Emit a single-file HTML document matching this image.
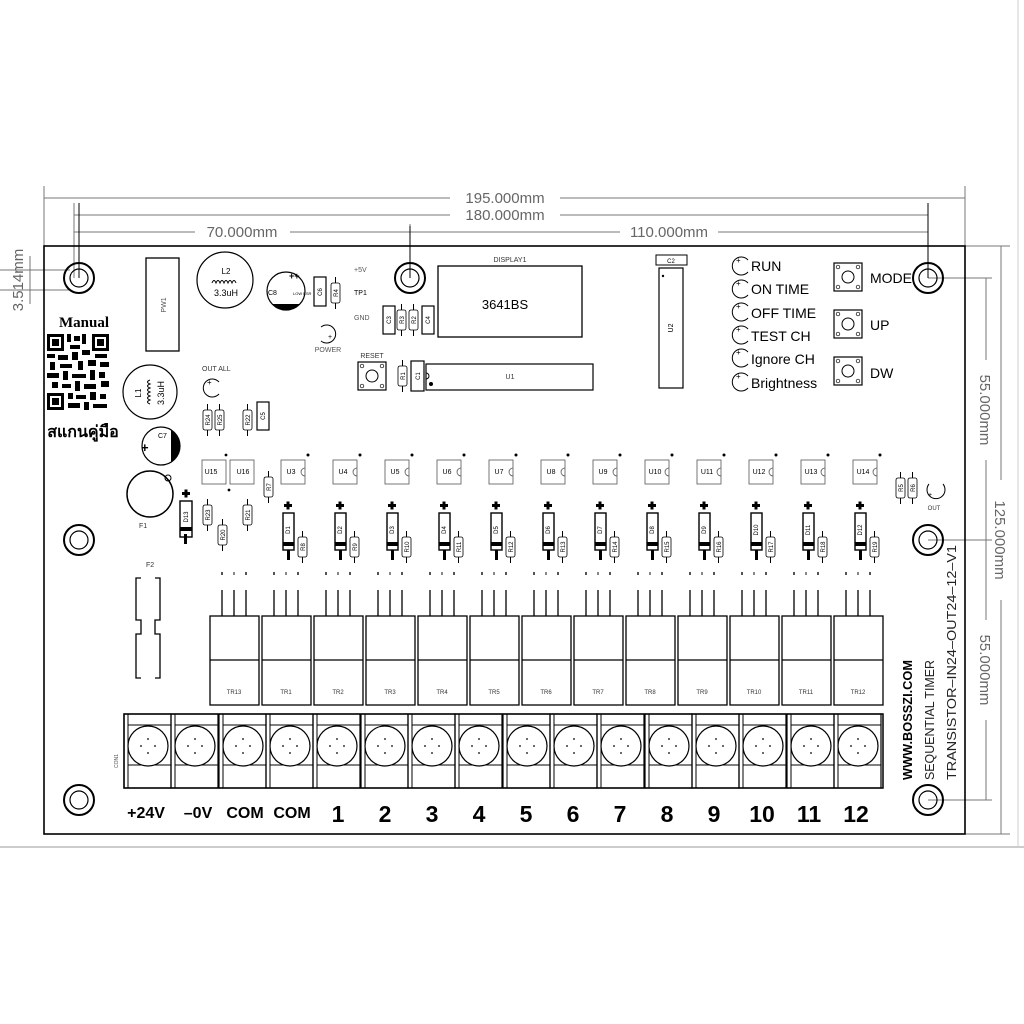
<!DOCTYPE html>
<html><head><meta charset="utf-8"><style>
html,body{margin:0;padding:0;background:#fff}
svg{display:block}
text{font-family:"Liberation Sans","Noto Sans CJK SC",sans-serif}
</style></head><body>
<svg width="1024" height="1024" viewBox="0 0 1024 1024" xmlns="http://www.w3.org/2000/svg">
<defs>
<g id="hole"><circle r="15" fill="none" stroke="#000" stroke-width="2"/><circle r="9" fill="none" stroke="#000" stroke-width="1.2"/></g>
<g id="res"><rect x="0" y="0" width="9" height="20" rx="2" fill="#fff" stroke="#000" stroke-width="0.8"/><line x1="4.5" y1="-6" x2="4.5" y2="0" stroke="#000"/><line x1="4.5" y1="20" x2="4.5" y2="26" stroke="#000"/></g>
<g id="tr"><rect x="0" y="0" width="49" height="89" fill="#fff" stroke="#000" stroke-width="1.3"/><line x1="0" y1="44" x2="49" y2="44" stroke="#000" stroke-width="1.3"/>
<line x1="12" y1="-26" x2="12" y2="0" stroke="#000" stroke-width="1.3"/><line x1="24" y1="-26" x2="24" y2="0" stroke="#000" stroke-width="1.3"/><line x1="36" y1="-26" x2="36" y2="0" stroke="#000" stroke-width="1.3"/>
<rect x="11" y="-44" width="2" height="3" fill="#555"/><rect x="23" y="-44" width="2" height="3" fill="#888"/><rect x="35" y="-44" width="2" height="3" fill="#555"/></g>
<g id="ch"><rect x="19" y="-156" width="24" height="24" fill="#fff" stroke="#555" stroke-width="0.8"/><path d="M43,-148 a4,4 0 0 0 0,8" fill="none" stroke="#555" stroke-width="0.8"/><circle cx="46" cy="-161" r="1.5" fill="#000"/>
<rect x="21" y="-103" width="11" height="37" fill="#fff" stroke="#000" stroke-width="1.4"/><rect x="21" y="-74" width="11" height="4" fill="#000"/><rect x="25" y="-66" width="3" height="10" fill="#000"/>
<rect x="22" y="-112" width="8" height="3" fill="#000"/><rect x="24.5" y="-114.5" width="3" height="8" fill="#000"/>
<use href="#res" x="36" y="-79"/></g>
<g id="term"><rect x="0" y="0" width="47" height="74" fill="none" stroke="#000" stroke-width="1.2"/><line x1="4" y1="0" x2="4" y2="74" stroke="#000"/><line x1="4" y1="11" x2="47" y2="11" stroke="#000"/><line x1="4" y1="51" x2="47" y2="51" stroke="#000"/><circle cx="24" cy="32" r="20" fill="#fff" stroke="#000" stroke-width="1.2"/>
<circle cx="24" cy="25" r="0.9"/><circle cx="24" cy="39" r="0.9"/><circle cx="17" cy="32" r="0.9"/><circle cx="31" cy="32" r="0.9"/></g>
<g id="led"><path d="M8,-6 A9,9 0 1 0 8,6" fill="none" stroke="#000" stroke-width="1"/><text x="-4" y="-3" font-size="8">+</text></g>
<g id="btn"><rect x="0" y="0" width="28" height="28" fill="none" stroke="#000" stroke-width="1.2"/><circle cx="14" cy="14" r="6" fill="none" stroke="#000"/><circle cx="4" cy="4" r="1.8" fill="none" stroke="#000" stroke-width="0.7"/><circle cx="24" cy="4" r="1.8" fill="none" stroke="#000" stroke-width="0.7"/><circle cx="4" cy="24" r="1.8" fill="none" stroke="#000" stroke-width="0.7"/><circle cx="24" cy="24" r="1.8" fill="none" stroke="#000" stroke-width="0.7"/></g>
</defs>

<line x1="0" y1="847" x2="1024" y2="847" stroke="#bbb" stroke-width="1.5"/>
<line x1="1018" y1="0" x2="1018" y2="847" stroke="#ccc" stroke-width="1"/>

<g stroke="#777" stroke-width="1" fill="none">
<line x1="44" y1="186" x2="44" y2="246"/><line x1="965" y1="186" x2="965" y2="246"/>
<line x1="74" y1="203" x2="74" y2="278"/><line x1="928" y1="203" x2="928" y2="278"/>
<line x1="410" y1="224" x2="410" y2="278"/>
<line x1="44" y1="198" x2="450" y2="198"/><line x1="560" y1="198" x2="965" y2="198"/>
<line x1="74" y1="215" x2="450" y2="215"/><line x1="560" y1="215" x2="928" y2="215"/>
<line x1="74" y1="232" x2="195" y2="232"/><line x1="290" y1="232" x2="410" y2="232"/>
<line x1="410" y1="232" x2="620" y2="232"/><line x1="718" y1="232" x2="928" y2="232"/>
<line x1="0" y1="270" x2="70" y2="270"/><line x1="0" y1="290" x2="70" y2="290"/>
<line x1="30" y1="256" x2="30" y2="304"/>
<line x1="965" y1="246" x2="1010" y2="246"/><line x1="965" y1="834" x2="1010" y2="834"/>
<line x1="928" y1="278" x2="992" y2="278"/><line x1="928" y1="540" x2="992" y2="540"/><line x1="928" y1="800" x2="992" y2="800"/>
<line x1="1001" y1="246" x2="1001" y2="480"/><line x1="1001" y1="600" x2="1001" y2="834"/>
<line x1="986" y1="278" x2="986" y2="360"/><line x1="986" y1="460" x2="986" y2="540"/>
<line x1="986" y1="540" x2="986" y2="620"/><line x1="986" y1="720" x2="986" y2="800"/>
</g>
<g fill="#666" font-size="15">
<text x="505" y="203" text-anchor="middle">195.000mm</text>
<text x="505" y="220" text-anchor="middle">180.000mm</text>
<text x="242" y="237" text-anchor="middle">70.000mm</text>
<text x="669" y="237" text-anchor="middle">110.000mm</text>
<text transform="translate(23,280) rotate(-90)" text-anchor="middle">3.514mm</text>
<text transform="translate(980,410) rotate(90)" text-anchor="middle">55.000mm</text>
<text transform="translate(980,670) rotate(90)" text-anchor="middle">55.000mm</text>
<text transform="translate(995,540) rotate(90)" text-anchor="middle">125.000mm</text>
</g>

<rect x="44" y="246" width="921" height="588" fill="none" stroke="#000" stroke-width="1.6"/>
<use href="#hole" x="79" y="278"/><use href="#hole" x="410" y="278"/><use href="#hole" x="928" y="278"/>
<use href="#hole" x="79" y="540"/><use href="#hole" x="928" y="540"/><use href="#hole" x="79" y="800"/><use href="#hole" x="928" y="800"/>
<g stroke="#000" stroke-width="1"><line x1="79" y1="203" x2="79" y2="278"/><line x1="410" y1="226" x2="410" y2="278"/><line x1="928" y1="203" x2="928" y2="278"/></g>

<text x="84" y="327" font-weight="bold" font-size="15" text-anchor="middle" style="font-family:'Liberation Serif',serif">Manual</text>
<g>
<rect x="47" y="334" width="62" height="76" fill="#fff"/>
<g fill="#000">
<rect x="47" y="334" width="17" height="17"/><rect x="92" y="334" width="17" height="17"/><rect x="47" y="393" width="17" height="17"/>
</g>
<g fill="#fff"><rect x="50" y="337" width="11" height="11"/><rect x="95" y="337" width="11" height="11"/><rect x="50" y="396" width="11" height="11"/></g>
<g fill="#000"><rect x="52" y="339" width="7" height="7"/><rect x="97" y="339" width="7" height="7"/><rect x="52" y="398" width="7" height="7"/>
<rect x="67" y="334" width="4" height="8"/><rect x="74" y="336" width="6" height="5"/><rect x="82" y="334" width="4" height="10"/><rect x="70" y="345" width="10" height="4"/>
<rect x="47" y="354" width="8" height="4"/><rect x="58" y="355" width="10" height="5"/><rect x="72" y="352" width="6" height="8"/><rect x="82" y="350" width="8" height="5"/><rect x="95" y="354" width="12" height="4"/>
<rect x="50" y="362" width="5" height="8"/><rect x="60" y="364" width="12" height="4"/><rect x="78" y="361" width="5" height="9"/><rect x="88" y="360" width="8" height="6"/><rect x="100" y="362" width="9" height="5"/>
<rect x="47" y="373" width="12" height="5"/><rect x="63" y="371" width="5" height="9"/><rect x="72" y="374" width="14" height="4"/><rect x="90" y="370" width="5" height="10"/><rect x="99" y="372" width="6" height="6"/>
<rect x="52" y="382" width="6" height="6"/><rect x="62" y="384" width="9" height="4"/><rect x="75" y="381" width="5" height="10"/><rect x="84" y="384" width="12" height="5"/><rect x="101" y="381" width="8" height="6"/>
<rect x="68" y="393" width="5" height="6"/><rect x="76" y="395" width="10" height="4"/><rect x="90" y="392" width="6" height="8"/><rect x="100" y="394" width="6" height="5"/>
<rect x="68" y="403" width="12" height="5"/><rect x="84" y="402" width="5" height="8"/><rect x="93" y="404" width="14" height="4"/></g>
</g>
<text x="83" y="437" font-size="16" font-weight="bold" text-anchor="middle" style="font-family:'Liberation Serif','Noto Serif CJK SC',serif">สแกนคู่มือ</text>

<rect x="146" y="258" width="33" height="93" fill="none" stroke="#000" stroke-width="1.3"/>
<text transform="translate(166,305) rotate(-90)" font-size="7" fill="#555" text-anchor="middle">PW1</text>
<circle cx="225" cy="280" r="28" fill="none" stroke="#000" stroke-width="1.2"/>
<text x="226" y="274" font-size="8" text-anchor="middle">L2</text>
<path d="M212,283 q2,-5 4,0 q2,-5 4,0 q2,-5 4,0 q2,-5 4,0 q2,-5 4,0 q2,-5 4,0" fill="none" stroke="#000"/>
<text x="226" y="296" font-size="9" text-anchor="middle">3.3uH</text>
<circle cx="286" cy="291" r="19" fill="none" stroke="#000" stroke-width="1.2"/>
<path d="M272,304 A19,19 0 0 0 300,304 Z" fill="#000"/>
<text x="268" y="295" font-size="7">C8</text><text x="289" y="279" font-size="9" font-weight="bold">++</text>
<text x="293" y="295" font-size="4">LOW ESR</text>
<rect x="314" y="277" width="12" height="29" fill="none" stroke="#000" stroke-width="1.2"/>
<text transform="translate(322,292) rotate(-90)" font-size="6" text-anchor="middle">C6</text>
<use href="#res" x="331" y="283"/><text transform="translate(338,293) rotate(-90)" font-size="6" text-anchor="middle">R4</text>
<path d="M321,327 A9,9 0 1 1 321,341" fill="none" stroke="#000"/><text x="328" y="339" font-size="7">+</text>
<text x="328" y="352" font-size="7" fill="#555" text-anchor="middle">POWER</text>
<text x="354" y="272" font-size="7" fill="#555">+5V</text>
<text x="354" y="295" font-size="7" fill="#000">TP1</text>
<text x="354" y="320" font-size="7" fill="#555">GND</text>

<rect x="383" y="306" width="12" height="28" fill="none" stroke="#000" stroke-width="1.2"/><text transform="translate(391,320) rotate(-90)" font-size="6" text-anchor="middle">C3</text>
<use href="#res" x="397" y="310"/><text transform="translate(404,320) rotate(-90)" font-size="6" text-anchor="middle">R3</text>
<use href="#res" x="409" y="310"/><text transform="translate(416,320) rotate(-90)" font-size="6" text-anchor="middle">R2</text>
<rect x="422" y="306" width="12" height="28" fill="none" stroke="#000" stroke-width="1.2"/><text transform="translate(430,320) rotate(-90)" font-size="6" text-anchor="middle">C4</text>
<rect x="438" y="266" width="144" height="71" fill="none" stroke="#000" stroke-width="1.3"/>
<text x="510" y="262" font-size="7" fill="#333" text-anchor="middle">DISPLAY1</text>
<text x="505" y="309" font-size="13" text-anchor="middle">3641BS</text>
<text x="372" y="358" font-size="7" fill="#333" text-anchor="middle">RESET</text>
<use href="#btn" x="358" y="362"/>
<use href="#res" x="398" y="366"/><text transform="translate(405,376) rotate(-90)" font-size="6" text-anchor="middle">R1</text>
<rect x="411" y="361" width="13" height="30" fill="none" stroke="#000" stroke-width="1.2"/><text transform="translate(420,376) rotate(-90)" font-size="6" text-anchor="middle">C1</text>
<rect x="426" y="364" width="167" height="26" fill="none" stroke="#000" stroke-width="1.2"/>
<path d="M426,373 a3,3 0 0 1 0,6" fill="none" stroke="#000"/><circle cx="431" cy="384" r="2" fill="#000"/>
<text x="510" y="379" font-size="7" fill="#333" text-anchor="middle">U1</text>

<rect x="656" y="255" width="31" height="10" fill="none" stroke="#000"/><text x="671" y="263" font-size="6" text-anchor="middle">C2</text>
<rect x="659" y="268" width="24" height="120" fill="none" stroke="#000" stroke-width="1.2"/><circle cx="663" cy="276" r="1.2"/>
<text transform="translate(673,328) rotate(-90)" font-size="7" text-anchor="middle">U2</text>

<g font-size="14"><use href="#led" x="740" y="266"/><text x="751" y="271">RUN</text>
<use href="#led" x="740" y="289"/><text x="751" y="294">ON TIME</text>
<use href="#led" x="740" y="312"/><text x="751" y="318">OFF TIME</text>
<use href="#led" x="740" y="335"/><text x="751" y="341">TEST CH</text>
<use href="#led" x="740" y="358"/><text x="751" y="364">Ignore CH</text>
<use href="#led" x="740" y="382"/><text x="751" y="388">Brightness</text>
<use href="#btn" x="834" y="263"/><text x="870" y="283">MODE</text>
<use href="#btn" x="834" y="310"/><text x="870" y="330">UP</text>
<use href="#btn" x="834" y="357"/><text x="870" y="378">DW</text></g>

<circle cx="150" cy="392" r="27" fill="none" stroke="#000" stroke-width="1.2"/>
<text transform="translate(141,393) rotate(-90)" font-size="8" text-anchor="middle">L1</text>
<path d="M150,380 q-5,2 0,4 q-5,2 0,4 q-5,2 0,4 q-5,2 0,4 q-5,2 0,4 q-5,2 0,4" fill="none" stroke="#000"/>
<text transform="translate(164,393) rotate(-90)" font-size="9" text-anchor="middle">3.3uH</text>
<circle cx="161" cy="446" r="19" fill="none" stroke="#000" stroke-width="1.2"/>
<path d="M171,430 A19,19 0 0 1 171,462 Z" fill="#000"/>
<text x="141" y="452" font-size="13" font-weight="bold">+</text><text x="158" y="438" font-size="7">C7</text>
<circle cx="150" cy="494" r="23" fill="none" stroke="#000" stroke-width="1.5"/>
<circle cx="168" cy="478" r="3" fill="none" stroke="#000"/>
<text x="139" y="528" font-size="7" fill="#333">F1</text>
<text x="146" y="567" font-size="7" fill="#333">F2</text>
<path d="M141,578 h-5 v42 h5 v14 h-5 v44 h5 M155,578 h5 v42 h-5 v14 h5 v44 h-5" fill="none" stroke="#000" stroke-width="1.3"/>

<text x="202" y="371" font-size="7" fill="#333">OUT ALL</text>
<use href="#led" x="211" y="388"/>
<use href="#res" x="203" y="410"/><text transform="translate(210,420) rotate(-90)" font-size="6" text-anchor="middle">R24</text>
<use href="#res" x="215" y="410"/><text transform="translate(222,420) rotate(-90)" font-size="6" text-anchor="middle">R25</text>
<use href="#res" x="243" y="410"/><text transform="translate(250,420) rotate(-90)" font-size="6" text-anchor="middle">R22</text>
<rect x="257" y="402" width="12" height="28" fill="none" stroke="#000" stroke-width="1.2"/><text transform="translate(265,416) rotate(-90)" font-size="6" text-anchor="middle">C5</text>
<rect x="202" y="460" width="24" height="24" fill="none" stroke="#555" stroke-width="0.8"/><text x="211" y="474" font-size="7" text-anchor="middle">U15</text>
<rect x="230" y="460" width="24" height="24" fill="none" stroke="#555" stroke-width="0.8"/><text x="243" y="474" font-size="7" text-anchor="middle">U16</text>
<circle cx="226" cy="455" r="1.4"/><circle cx="229" cy="490" r="1.4"/>
<use href="#res" x="264" y="477"/><text transform="translate(271,487) rotate(-90)" font-size="6" text-anchor="middle">R7</text>
<rect x="180" y="501" width="12" height="36" fill="none" stroke="#000" stroke-width="1.4"/><rect x="180" y="527" width="12" height="4" fill="#000"/><rect x="184" y="534" width="3" height="10" fill="#000"/>
<rect x="182" y="492" width="8" height="3" fill="#000"/><rect x="184.5" y="489.5" width="3" height="8" fill="#000"/>
<text transform="translate(188,517) rotate(-90)" font-size="6" text-anchor="middle">D13</text>
<use href="#res" x="203" y="505"/><text transform="translate(210,515) rotate(-90)" font-size="6" text-anchor="middle">R23</text>
<use href="#res" x="218" y="525"/><text transform="translate(225,535) rotate(-90)" font-size="6" text-anchor="middle">R20</text>
<use href="#res" x="243" y="505"/><text transform="translate(250,515) rotate(-90)" font-size="6" text-anchor="middle">R21</text>

<use href="#tr" x="210" y="616"/>
<g>
<use href="#tr" x="262" y="616"/><use href="#tr" x="314" y="616"/><use href="#tr" x="366" y="616"/><use href="#tr" x="418" y="616"/>
<use href="#tr" x="470" y="616"/><use href="#tr" x="522" y="616"/><use href="#tr" x="574" y="616"/><use href="#tr" x="626" y="616"/>
<use href="#tr" x="678" y="616"/><use href="#tr" x="730" y="616"/><use href="#tr" x="782" y="616"/><use href="#tr" x="834" y="616"/>
<use href="#ch" x="262" y="616"/><use href="#ch" x="314" y="616"/><use href="#ch" x="366" y="616"/><use href="#ch" x="418" y="616"/>
<use href="#ch" x="470" y="616"/><use href="#ch" x="522" y="616"/><use href="#ch" x="574" y="616"/><use href="#ch" x="626" y="616"/>
<use href="#ch" x="678" y="616"/><use href="#ch" x="730" y="616"/><use href="#ch" x="782" y="616"/><use href="#ch" x="834" y="616"/>
</g>
<g font-size="6" fill="#333" text-anchor="middle">
<text x="234" y="694">TR13</text><text x="286" y="694">TR1</text><text x="338" y="694">TR2</text><text x="390" y="694">TR3</text><text x="442" y="694">TR4</text><text x="494" y="694">TR5</text><text x="546" y="694">TR6</text><text x="598" y="694">TR7</text><text x="650" y="694">TR8</text><text x="702" y="694">TR9</text><text x="754" y="694">TR10</text><text x="806" y="694">TR11</text><text x="858" y="694">TR12</text>
</g>
<g font-size="7" text-anchor="middle">
<text x="291" y="474">U3</text><text x="343" y="474">U4</text><text x="395" y="474">U5</text><text x="447" y="474">U6</text><text x="499" y="474">U7</text><text x="551" y="474">U8</text><text x="603" y="474">U9</text><text x="655" y="474">U10</text><text x="707" y="474">U11</text><text x="759" y="474">U12</text><text x="811" y="474">U13</text><text x="863" y="474">U14</text>
</g>
<g font-size="6" text-anchor="middle">
<text transform="translate(290,530) rotate(-90)">D1</text><text transform="translate(342,530) rotate(-90)">D2</text><text transform="translate(394,530) rotate(-90)">D3</text><text transform="translate(446,530) rotate(-90)">D4</text><text transform="translate(498,530) rotate(-90)">D5</text><text transform="translate(550,530) rotate(-90)">D6</text><text transform="translate(602,530) rotate(-90)">D7</text><text transform="translate(654,530) rotate(-90)">D8</text><text transform="translate(706,530) rotate(-90)">D9</text><text transform="translate(758,530) rotate(-90)">D10</text><text transform="translate(810,530) rotate(-90)">D11</text><text transform="translate(862,530) rotate(-90)">D12</text>
<text transform="translate(305,547) rotate(-90)">R8</text><text transform="translate(357,547) rotate(-90)">R9</text><text transform="translate(409,547) rotate(-90)">R10</text><text transform="translate(461,547) rotate(-90)">R11</text><text transform="translate(513,547) rotate(-90)">R12</text><text transform="translate(565,547) rotate(-90)">R13</text><text transform="translate(617,547) rotate(-90)">R14</text><text transform="translate(669,547) rotate(-90)">R15</text><text transform="translate(721,547) rotate(-90)">R16</text><text transform="translate(773,547) rotate(-90)">R17</text><text transform="translate(825,547) rotate(-90)">R18</text><text transform="translate(877,547) rotate(-90)">R19</text>
</g>
<use href="#res" x="896" y="478"/><text transform="translate(903,488) rotate(-90)" font-size="6" text-anchor="middle">R5</text>
<use href="#res" x="908" y="478"/><text transform="translate(915,488) rotate(-90)" font-size="6" text-anchor="middle">R6</text>
<path d="M929,484 A9,9 0 1 0 943,484" fill="none" stroke="#000"/><text x="928" y="497" font-size="7">+</text>
<text x="934" y="510" font-size="6" fill="#333" text-anchor="middle">OUT</text>

<rect x="124" y="714" width="759" height="74" fill="none" stroke="#000" stroke-width="1.5"/>
<use href="#term" x="124" y="714"/><use href="#term" x="171" y="714"/><use href="#term" x="219" y="714"/><use href="#term" x="266" y="714"/>
<use href="#term" x="313" y="714"/><use href="#term" x="361" y="714"/><use href="#term" x="408" y="714"/><use href="#term" x="455" y="714"/>
<use href="#term" x="503" y="714"/><use href="#term" x="550" y="714"/><use href="#term" x="597" y="714"/><use href="#term" x="645" y="714"/>
<use href="#term" x="692" y="714"/><use href="#term" x="739" y="714"/><use href="#term" x="787" y="714"/><use href="#term" x="834" y="714"/>
<text transform="translate(118,768) rotate(-90)" font-size="5" fill="#555">CON1</text>
<g font-weight="bold" font-size="16" text-anchor="middle">
<text x="146" y="818">+24V</text><text x="198" y="818">–0V</text><text x="245" y="818">COM</text><text x="292" y="818">COM</text>
</g>
<g font-weight="bold" font-size="23" text-anchor="middle">
<text x="338" y="822">1</text><text x="385" y="822">2</text><text x="432" y="822">3</text><text x="479" y="822">4</text><text x="526" y="822">5</text><text x="573" y="822">6</text><text x="620" y="822">7</text><text x="667" y="822">8</text><text x="714" y="822">9</text><text x="762" y="822">10</text><text x="809" y="822">11</text><text x="856" y="822">12</text>
</g>
<g font-size="13">
<text transform="translate(912,780) rotate(-90)" font-weight="bold" textLength="120" lengthAdjust="spacingAndGlyphs">WWW.BOSSZI.COM</text>
<text transform="translate(934,780) rotate(-90)" fill="#222" textLength="120" lengthAdjust="spacingAndGlyphs">SEQUENTIAL TIMER</text>
<text transform="translate(956,780) rotate(-90)" fill="#222" textLength="235" lengthAdjust="spacingAndGlyphs">TRANSISTOR–IN24–OUT24–12–V1</text>
</g>
</svg>
</body></html>
